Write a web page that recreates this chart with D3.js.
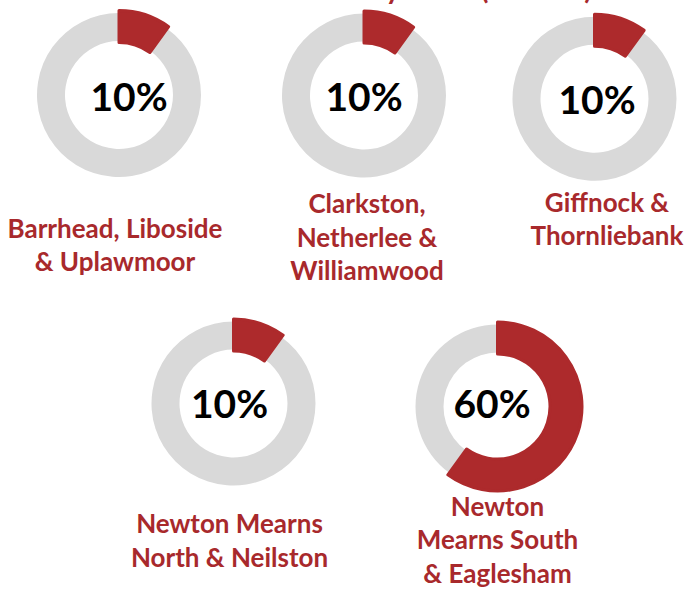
<!DOCTYPE html>
<html>
<head>
<meta charset="utf-8">
<script src="https://cdn.jsdelivr.net/npm/d3@7"></script>
<style>
  html, body { margin: 0; padding: 0; background: #ffffff; }
  svg { display: block; }
</style>
</head>
<body>
<svg id="chart" width="685" height="589"></svg>
<script>
// Locality names (one entry per line of the label) and their share in percent
const areaLines = [
  ["Barrhead, Liboside", "& Uplawmoor"],
  ["Clarkston,", "Netherlee &", "Williamwood"],
  ["Giffnock &", "Thornliebank"],
  ["Newton Mearns", "North & Neilston"],
  ["Newton", "Mearns South", "& Eaglesham"]
];
const shares = [10, 10, 10, 10, 60];
const titleText = "Residents by Ward (Percent)";

// Placement of each donut, its centre figure and its name block
const panels = [
  { cx: 119,   cy: 95,    textDx: 10,  textDy: 2,  labelX: 115,   labelY: 237.7 },
  { cx: 364,   cy: 95.5,  textDx: 0,   textDy: 1.5, labelX: 367,  labelY: 213.3 },
  { cx: 594.5, cy: 98.7,  textDx: 2.5, textDy: 1.5, labelX: 607,  labelY: 211.7 },
  { cx: 233.5, cy: 403.5, textDx: -4,  textDy: 0.5, labelX: 229.5, labelY: 533.3 },
  { cx: 497.5, cy: 406.5, textDx: -5.5, textDy: -3, labelX: 497.5, labelY: 516 }
];

const RED = "#ad2a2c";
const GREY = "#d9d9d9";
const LABEL_RED = "#a8292c";
const lineHeight = 33.4;

const svg = d3.select("#chart");

// Title sits above the top edge; only its descenders fall inside the frame
svg.append("text")
  .attr("x", 592)
  .attr("y", -1)
  .attr("text-anchor", "end")
  .attr("font-family", "Lato, 'Open Sans', sans-serif")
  .attr("font-weight", 700)
  .attr("font-size", 28)
  .attr("fill", LABEL_RED)
  .text(titleText);

const pie = d3.pie().sort(null).value(d => d);
const share = d3.scaleLinear().domain([0, 100]).range([0, 100]);

const greyArc = d3.arc().innerRadius(54).outerRadius(82);
const redArc = d3.arc().innerRadius(52.5).outerRadius(84.5);

shares.forEach((v, i) => {
  const p = panels[i];
  const g = svg.append("g").attr("transform", `translate(${p.cx},${p.cy})`);
  const slices = pie([share(v), share(100 - v)]);

  // remainder ring
  g.append("path")
    .attr("d", greyArc(slices[1]))
    .attr("fill", GREY);

  // highlighted share, outlined like an Excel slice border
  g.append("path")
    .attr("d", redArc(slices[0]))
    .attr("fill", RED)
    .attr("stroke", RED)
    .attr("stroke-width", 3)
    .attr("stroke-linejoin", "round");

  // centre figure
  g.append("text")
    .attr("x", p.textDx)
    .attr("y", p.textDy)
    .attr("dy", "0.36em")
    .attr("text-anchor", "middle")
    .attr("font-family", "Lato, 'Open Sans', sans-serif")
    .attr("font-weight", 700)
    .attr("font-size", 39)
    .attr("fill", "#000000")
    .text(v + "%");

  // locality name
  const label = svg.append("text")
    .attr("text-anchor", "middle")
    .attr("font-family", "Lato, 'Open Sans', sans-serif")
    .attr("font-weight", 700)
    .attr("font-size", 26)
    .attr("fill", LABEL_RED);
  areaLines[i].forEach((line, j) => {
    label.append("tspan")
      .attr("x", p.labelX)
      .attr("y", p.labelY + j * lineHeight)
      .text(line);
  });
});
</script>
</body>
</html>
